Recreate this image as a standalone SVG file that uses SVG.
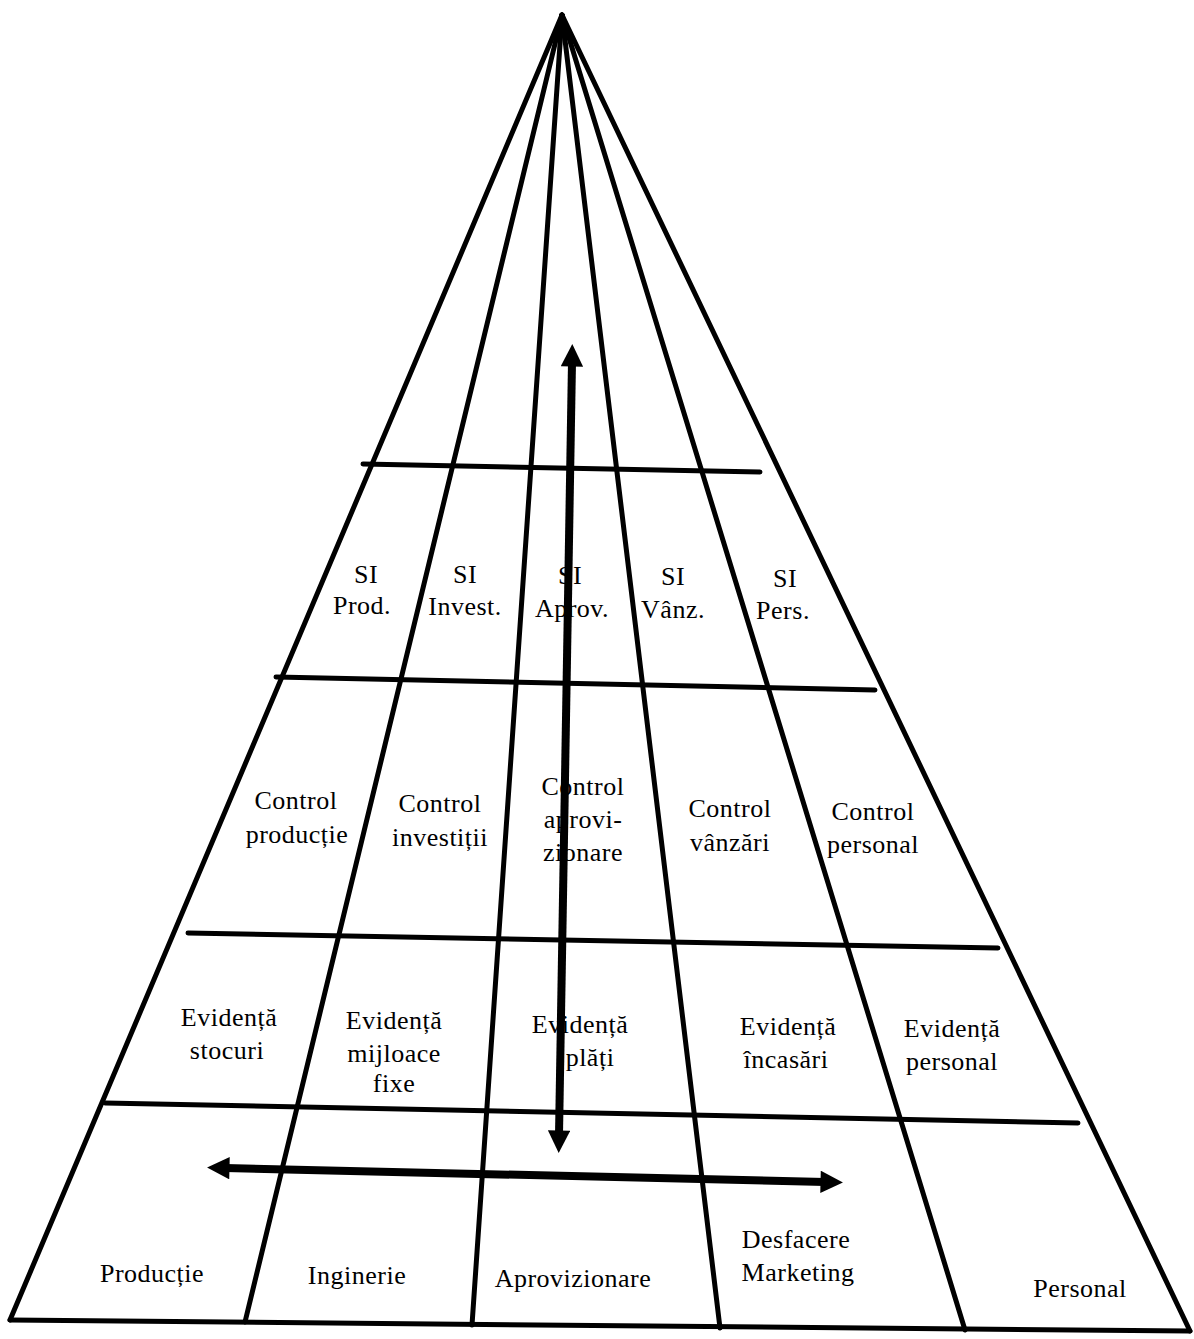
<svg xmlns="http://www.w3.org/2000/svg" width="1194" height="1339" viewBox="0 0 1194 1339">
<style>
.ln{stroke:#000;stroke-width:5;fill:none;stroke-linecap:round}
.ar{stroke:#000;stroke-width:8;fill:none}
text{font-family:"Liberation Serif","Times New Roman",serif;font-size:26px;letter-spacing:0.5px;fill:#000;text-anchor:middle}
</style>
<defs>
<marker id="ah" viewBox="0 0 10 10" refX="2" refY="5" markerWidth="3.1" markerHeight="2.8" orient="auto-start-reverse" markerUnits="strokeWidth">
<path d="M0,0 L10,5 L0,10 z" fill="#000"/>
</marker>
</defs>
<rect width="1194" height="1339" fill="#fff"/>
<g id="connectors">
<line class="ln" x1="562" y1="15" x2="10" y2="1320"/>
<line class="ln" x1="562" y1="15" x2="245" y2="1322"/>
<line class="ln" x1="562" y1="15" x2="472" y2="1325"/>
<line class="ln" x1="562" y1="15" x2="720" y2="1328"/>
<line class="ln" x1="562" y1="15" x2="965" y2="1330"/>
<line class="ln" x1="562" y1="15" x2="1190" y2="1331"/>
<line class="ln" x1="10" y1="1320" x2="1190" y2="1331"/>
<line class="ln" x1="363" y1="464" x2="760" y2="472"/>
<line class="ln" x1="276" y1="677" x2="875" y2="690"/>
<line class="ln" x1="188" y1="933" x2="998" y2="948"/>
<line class="ln" x1="105" y1="1103" x2="1078" y2="1123"/>
<line class="ar" x1="572" y1="362" x2="559" y2="1135" marker-start="url(#ah)" marker-end="url(#ah)"/>
<line class="ar" x1="225" y1="1168" x2="825" y2="1182" marker-start="url(#ah)" marker-end="url(#ah)"/>
</g>
<g id="si-prod"><text x="366" y="583">SI</text><text x="362" y="614">Prod.</text></g>
<g id="si-invest"><text x="465" y="583">SI</text><text x="465" y="615">Invest.</text></g>
<g id="si-aprov"><text x="570" y="584">SI</text><text x="572" y="617">Aprov.</text></g>
<g id="si-vanz"><text x="673" y="585">SI</text><text x="673" y="618">Vânz.</text></g>
<g id="si-pers"><text x="785" y="587">SI</text><text x="783" y="619">Pers.</text></g>
<g id="control-productie"><text x="296" y="809">Control</text><text x="297" y="843">producție</text></g>
<g id="control-investitii"><text x="440" y="812">Control</text><text x="440" y="846">investiții</text></g>
<g id="control-aprovizionare"><text x="583" y="795">Control</text><text x="583" y="828">aprovi-</text><text x="583" y="861">zionare</text></g>
<g id="control-vanzari"><text x="730" y="817">Control</text><text x="730" y="851">vânzări</text></g>
<g id="control-personal"><text x="873" y="820">Control</text><text x="873" y="853">personal</text></g>
<g id="evidenta-stocuri"><text x="229" y="1026">Evidență</text><text x="227" y="1059">stocuri</text></g>
<g id="evidenta-mijloace"><text x="394" y="1029">Evidență</text><text x="394" y="1062">mijloace</text><text x="394" y="1092">fixe</text></g>
<g id="evidenta-plati"><text x="580" y="1033">Evidență</text><text x="590" y="1066">plăți</text></g>
<g id="evidenta-incasari"><text x="788" y="1035">Evidență</text><text x="786" y="1068">încasări</text></g>
<g id="evidenta-personal"><text x="952" y="1037">Evidență</text><text x="952" y="1070">personal</text></g>
<g id="productie"><text x="152" y="1282">Producție</text></g>
<g id="inginerie"><text x="357" y="1284">Inginerie</text></g>
<g id="aprovizionare"><text x="573" y="1287">Aprovizionare</text></g>
<g id="desfacere"><text x="796" y="1248">Desfacere</text><text x="798" y="1281">Marketing</text></g>
<g id="personal"><text x="1080" y="1297">Personal</text></g>
</svg>
